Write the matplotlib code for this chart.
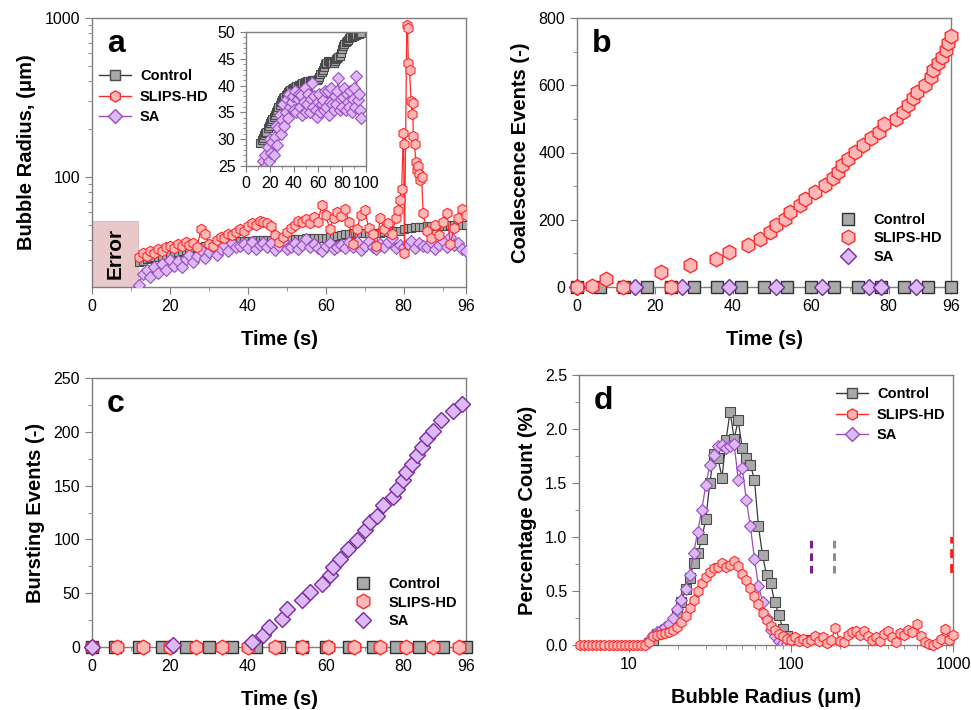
import numpy as np
import matplotlib
matplotlib.use("Agg")
import matplotlib.pyplot as plt
from matplotlib.ticker import MultipleLocator, FixedLocator, NullFormatter, LogLocator
from matplotlib.lines import Line2D

plt.rcParams['font.family'] = ['Liberation Sans', 'DejaVu Sans']

# ---------------- Panel a data ----------------
t_a = np.arange(12, 97)
control_a = [29.3, 29.8, 30.3, 30.8, 31.2, 31.4, 32.0, 32.5, 33.0, 33.4, 33.8, 34.2, 34.6, 35.0,
             35.5, 36.0, 36.4, 36.9, 37.3, 37.6, 37.9, 38.2, 38.5, 38.8, 39.0, 39.2, 39.4, 39.5,
             39.6, 39.8, 39.9, 40.0, 40.1, 40.2, 40.3, 40.4, 40.5, 40.6, 40.7, 40.8, 40.8, 40.9,
             40.9, 41.0, 41.0, 41.0, 41.0, 41.1, 41.2, 41.6, 42.1, 42.6, 43.0, 43.5, 44.0, 44.3,
             44.6, 44.5, 44.4, 44.3, 44.3, 44.2, 44.6, 45.0, 45.2, 45.4, 45.5, 46.0, 46.8, 47.4,
             47.8, 48.1, 48.4, 48.6, 48.8, 49.0, 49.1, 49.2, 49.3, 49.4, 49.5, 49.6, 49.7, 49.8, 49.8]
sa_a = [21.0, 24.5, 26.0, 23.5, 27.0, 25.0, 28.5, 26.0, 30.0, 27.5, 29.5, 27.0, 30.5, 32.5,
        29.0, 32.0, 34.5, 31.0, 33.5, 36.5, 32.5, 35.0, 37.5, 34.0, 38.5, 36.0, 37.0, 38.0,
        35.5, 39.0, 35.0, 37.5, 38.5, 36.0, 38.2, 34.5, 37.0, 39.5, 35.1, 36.5, 38.5, 35.0,
        37.5, 40.4, 36.0, 38.0, 35.5, 34.2, 37.0, 38.5, 35.0, 36.5, 37.3, 35.5, 39.0, 36.0,
        38.9, 34.5, 37.0, 39.5, 36.5, 35.4, 38.0, 36.5, 39.0, 41.4, 35.5, 37.5, 36.0, 37.9,
        39.5, 35.5, 38.5, 37.0, 36.1, 39.0, 35.0, 37.5, 39.5, 36.0, 41.7, 37.3, 38.5, 35.4, 34.0]
t_slips_a = [12, 13, 14, 15, 16, 17, 18, 19, 20, 21, 22, 23, 24, 25, 26, 27, 28, 29, 30, 31,
             32, 33, 34, 35, 36, 37, 38, 39, 40, 41, 42, 43, 44, 45, 46, 47, 48, 49, 50, 51,
             52, 53, 54, 55, 56, 57, 58, 59, 60, 61, 62, 63, 64, 65, 66, 67, 68, 69, 70, 71,
             72, 73, 74, 75, 76, 77, 78, 78.5, 79, 79.5, 79.9, 80.0, 80.2, 80.8, 81.0, 81.2,
             81.5, 81.9, 82.1, 82.3, 82.5, 82.8, 83.1, 83.4, 83.7, 84.0, 84.3, 84.6, 85, 86,
             87, 88, 89, 90, 91, 92, 93, 94, 95, 96]
slips_a = [31.5, 33.0, 32.0, 34.0, 33.0, 35.0, 34.0, 36.0, 37.0, 35.5, 38.0, 37.0, 39.0, 37.5,
           38.5, 36.5, 47.0, 44.0, 38.0, 37.0, 40.0, 42.0, 41.0, 44.0, 43.0, 45.0, 47.0, 46.0,
           49.0, 51.0, 50.0, 53.0, 52.0, 51.5, 49.0, 43.0, 39.0, 42.0, 45.0, 47.5, 50.0, 53.0,
           52.0, 54.0, 51.0, 56.0, 52.0, 67.0, 58.0, 47.0, 55.0, 60.0, 57.0, 63.0, 52.0, 38.0,
           47.0, 58.0, 62.0, 48.0, 44.0, 37.0, 55.0, 47.0, 51.0, 44.0, 55.0, 62.0, 72.0, 84.0,
           190.0, 160.0, 33.0, 900.0, 860.0, 520.0, 470.0, 300.0, 250.0, 290.0, 180.0, 160.0,
           125.0, 110.0, 118.0, 105.0, 95.0, 100.0, 59.0, 46.0, 41.0, 50.0, 43.0, 52.0, 59.0,
           38.0, 48.0, 55.0, 63.0, 58.0]

# ---------------- Panel b data ----------------
t_slips_b = [0, 3.8, 7.4, 11.9, 21.6, 24.1, 29.0, 35.7, 38.9, 44.0, 47.1, 49.5, 51.0, 53.3,
             54.7, 57.2, 58.5, 61.0, 63.6, 65.8, 67.0, 68.0, 69.6, 71.3, 73.3, 75.4, 77.6,
             78.9, 81.9, 83.6, 84.9, 86.3, 87.4, 89.3, 90.8, 91.4, 92.6, 93.8, 94.7, 95.3, 96.1]
slips_b = [0, 3, 24, 0, 45, 0, 65, 84, 104, 124, 144, 164, 184, 203, 223, 243, 263, 283, 303,
           323, 342, 362, 382, 402, 422, 442, 462, 484, 501, 521, 541, 561, 581, 600, 625, 645,
           665, 685, 705, 725, 745]
t_control_b = [0, 6, 12, 18, 24, 30, 36, 42, 48, 54, 60, 66, 72, 78, 84, 90, 96]
control_b = [0] * len(t_control_b)
t_sa_b = [0, 15, 27, 39, 51, 63, 75, 78, 87]
sa_b = [0] * len(t_sa_b)

# ---------------- Panel c data ----------------
t_sa_c = [0, 20.9, 41.1, 44.0, 45.5, 48.7, 50.1, 53.8, 56.0, 59.0, 61.1, 61.9, 63.7, 65.8,
          68.0, 70.1, 71.4, 73.1, 74.6, 77.2, 78.2, 79.8, 80.6, 82.1, 83.3, 84.6, 86.1, 87.6,
          89.7, 92.6, 94.9]
sa_c = [0, 1.5, 4.6, 10.8, 18.6, 26.3, 35.6, 43.4, 51.0, 58.9, 66.6, 74.4, 82.0, 91.4, 99.0,
        108.4, 116.0, 122.0, 132.0, 139.0, 147.0, 155.0, 163.0, 170.0, 178.0, 186.0, 194.0,
        201.0, 211.0, 219.0, 226.0]
t_control_c = [0, 6, 12, 18, 24, 30, 36, 42, 48, 54, 60, 66, 72, 78, 84, 90, 96]
control_c = [0] * len(t_control_c)
t_slips_c = [0, 6.4, 13.2, 20.0, 26.7, 33.4, 40.1, 47.0, 53.8, 60.5, 67.3, 74.0, 80.6, 87.5, 94.3]
slips_c = [0] * len(t_slips_c)

# ---------------- Panel d data ----------------
radius_slips = 10 ** (0.7 + 0.025 * np.arange(93))
pct_slips = [0, 0, 0, 0, 0, 0, 0, 0, 0, 0, 0, 0, 0, 0, 0, 0, 0,
             0.03, 0.08, 0.09, 0.10, 0.11, 0.12, 0.14, 0.17, 0.21, 0.27, 0.34, 0.42, 0.50, 0.57,
             0.63, 0.68, 0.71, 0.72, 0.76, 0.72, 0.74, 0.78, 0.73, 0.66, 0.60, 0.53, 0.45, 0.38,
             0.30, 0.23, 0.18, 0.14, 0.10, 0.08, 0.06, 0.05, 0.07, 0.04, 0.06, 0.03, 0.05, 0.08,
             0.04, 0.07, 0.02, 0.05, 0.16, 0.04, 0.03, 0.09, 0.12, 0.13, 0.09, 0.13, 0.08, 0.05,
             0.07, 0.04, 0.10, 0.13, 0.07, 0.03, 0.11, 0.09, 0.14, 0.12, 0.19, 0.08, 0.03, 0.01,
             0.00, 0.02, 0.06, 0.15, 0.05, 0.09]
radius_control = 10 ** (1.125 + 0.025 * np.arange(47))
pct_control = [0.02, 0.05, 0.10, 0.12, 0.14, 0.17, 0.21, 0.29, 0.40, 0.52, 0.62, 0.76, 0.85,
               0.98, 1.17, 1.50, 1.77, 1.73, 1.55, 1.90, 2.16, 1.91, 2.08, 1.82, 1.73, 1.67,
               1.53, 1.10, 0.83, 0.65, 0.57, 0.40, 0.28, 0.15, 0.08, 0.05, 0.04, 0.03, 0.05,
               0.04, 0.05, 0.03, 0.02, 0.01, 0.00, 0.00, 0.00]
radius_sa = 10 ** (1.125 + 0.025 * np.arange(41))
pct_sa = [0.05, 0.09, 0.12, 0.14, 0.17, 0.19, 0.25, 0.33, 0.42, 0.52, 0.65, 0.85, 1.05, 1.25,
          1.48, 1.67, 1.76, 1.84, 1.85, 1.82, 1.84, 1.86, 1.53, 1.64, 1.34, 1.10, 0.80, 0.55,
          0.40, 0.25, 0.14, 0.08, 0.04, 0.02, 0.01, 0.00, 0.00, 0.00, 0.00, 0.00, 0.00]
max_radius = {'SA': 133, 'Control': 185, 'SLIPS-HD': 980}

# ---------------- Styles ----------------
C_FACE, C_EDGE, C_LINE = '#a9a9a9', '#4a4a4a', '#3a3a3a'
S_FACE, S_EDGE, S_LINE = '#ffb8b8', '#ff2a2a', '#ff2a2a'
A_FACE, A_EDGE, A_LINE = '#dcb8f5', '#9a4cc0', '#9a4cc0'
SPINE = '#7f7f7f'
TICKFS = 11.5
LABFS = 14.5
LEGFS = 10.5

fig = plt.figure(figsize=(9.71, 7.10), dpi=100)


def style_axes(ax):
    for s in ax.spines.values():
        s.set_color(SPINE)
        s.set_linewidth(1.0)
    ax.tick_params(which='both', direction='out', color=SPINE, labelsize=TICKFS,
                   top=False, right=False)
    ax.tick_params(which='major', length=5)
    ax.tick_params(which='minor', length=3)


def panel_letter(ax, s):
    ax.text(0.04, 0.875, s, transform=ax.transAxes, fontsize=23, fontweight='bold',
            va='baseline', ha='left')


# ---- a ----
axa = fig.add_axes([92 / 971, 1 - 287 / 710, 374 / 971, 269 / 710])
axa.set_yscale('log')
axa.set_xlim(0, 96)
axa.set_ylim(20.3, 1000)
axa.fill_between([0, 11.8], 20.3, 53, color='#e8c8c8', edgecolor='#dcb0b0', lw=0.6, zorder=1)
axa.text(5.9, 33, 'Error', rotation=90, ha='center', va='center', fontsize=15,
         fontweight='bold', zorder=2)
axa.plot(t_a, control_a, '-s', color=C_LINE, mfc=C_FACE, mec=C_EDGE, ms=6, mew=0.8, lw=0.9, zorder=3)
axa.plot(t_a, sa_a, '-D', color=A_LINE, mfc=A_FACE, mec=A_EDGE, ms=6, mew=0.8, lw=0.9, zorder=4)
axa.plot(t_slips_a, slips_a, '-h', color=S_LINE, mfc=S_FACE, mec=S_EDGE, ms=7.5, mew=0.8, lw=0.9, zorder=5)
style_axes(axa)
axa.set_xticks([0, 20, 40, 60, 80, 96])
axa.xaxis.set_minor_locator(FixedLocator([10, 30, 50, 70, 90]))
axa.yaxis.set_major_locator(FixedLocator([100, 1000]))
axa.yaxis.set_minor_locator(LogLocator(base=10, subs=np.arange(2, 10)))
axa.yaxis.set_minor_formatter(NullFormatter())
axa.set_yticklabels(['100', '1000'])
axa.set_xlabel('Time (s)', fontsize=LABFS, fontweight='bold', labelpad=12)
axa.set_ylabel('Bubble Radius, (μm)', fontsize=LABFS, fontweight='bold', labelpad=6)
panel_letter(axa, 'a')
h_a = [Line2D([], [], color=C_LINE, marker='s', mfc=C_FACE, mec=C_EDGE, ms=7, lw=1),
       Line2D([], [], color=S_LINE, marker='h', mfc=S_FACE, mec=S_EDGE, ms=8, lw=1),
       Line2D([], [], color=A_LINE, marker='D', mfc=A_FACE, mec=A_EDGE, ms=7, lw=1)]
axa.legend(h_a, ['Control', 'SLIPS-HD', 'SA'], loc='upper left', bbox_to_anchor=(0.019, 0.81),
           frameon=False, prop={'weight': 'bold', 'size': LEGFS}, handlelength=2.2,
           handletextpad=0.6, labelspacing=0.45, borderpad=0, borderaxespad=0)

# inset
axi = fig.add_axes([246 / 971, 1 - 166 / 710, 120 / 971, 134 / 710])
axi.set_xlim(0, 100)
axi.set_ylim(25, 50)
axi.plot(t_a, control_a, '-s', color=C_LINE, mfc=C_FACE, mec=C_EDGE, ms=6, mew=0.8, lw=0.9, clip_on=True)
axi.plot(t_a, sa_a, '-D', color=A_LINE, mfc=A_FACE, mec=A_EDGE, ms=6, mew=0.8, lw=0.9, clip_on=True)
style_axes(axi)
axi.xaxis.set_major_locator(MultipleLocator(20))
axi.xaxis.set_minor_locator(MultipleLocator(10))
axi.yaxis.set_major_locator(MultipleLocator(5))
axi.yaxis.set_minor_locator(MultipleLocator(1))
axi.tick_params(which='major', length=4)
axi.tick_params(which='minor', length=2)

# ---- b ----
axb = fig.add_axes([577 / 971, 1 - 287 / 710, 374 / 971, 269 / 710])
axb.set_xlim(0, 96)
axb.set_ylim(0, 800)
axb.plot(t_control_b, control_b, 's', mfc=C_FACE, mec='#303030', ms=9, mew=1.0, clip_on=False, zorder=3)
axb.plot(t_sa_b, sa_b, 'D', mfc=A_FACE, mec='#7a2aa0', ms=8.5, mew=1.0, clip_on=False, zorder=4)
axb.plot(t_slips_b, slips_b, 'h', mfc=S_FACE, mec=S_EDGE, ms=10.5, mew=1.0, clip_on=False, zorder=5)
style_axes(axb)
axb.set_xticks([0, 20, 40, 60, 80, 96])
axb.xaxis.set_minor_locator(FixedLocator([10, 30, 50, 70, 90]))
axb.yaxis.set_major_locator(MultipleLocator(200))
axb.yaxis.set_minor_locator(MultipleLocator(100))
axb.set_xlabel('Time (s)', fontsize=LABFS, fontweight='bold', labelpad=12)
axb.set_ylabel('Coalescence Events (-)', fontsize=LABFS, fontweight='bold', labelpad=6)
panel_letter(axb, 'b')
h_b = [Line2D([], [], ls='', marker='s', mfc=C_FACE, mec='#303030', ms=9),
       Line2D([], [], ls='', marker='h', mfc=S_FACE, mec=S_EDGE, ms=10.5),
       Line2D([], [], ls='', marker='D', mfc=A_FACE, mec='#7a2aa0', ms=8.5)]
axb.legend(h_b, ['Control', 'SLIPS-HD', 'SA'], loc='lower right', bbox_to_anchor=(0.976, 0.085),
           frameon=False, prop={'weight': 'bold', 'size': LEGFS}, handlelength=2.0,
           handletextpad=0.72, labelspacing=0.32, borderpad=0, borderaxespad=0)

# ---- c ----
axc = fig.add_axes([92 / 971, 1 - 647 / 710, 374 / 971, 269 / 710])
axc.set_xlim(0, 96)
axc.set_ylim(0, 250)
axc.plot(t_control_c, control_c, 's', mfc=C_FACE, mec='#303030', ms=9, mew=1.0, clip_on=False, zorder=3)
axc.plot(t_slips_c, slips_c, 'h', mfc=S_FACE, mec=S_EDGE, ms=10.5, mew=1.0, clip_on=False, zorder=4)
axc.plot(t_sa_c, sa_c, 'D', mfc=A_FACE, mec='#7a2aa0', ms=8.5, mew=1.0, clip_on=False, zorder=5)
style_axes(axc)
axc.set_xticks([0, 20, 40, 60, 80, 96])
axc.xaxis.set_minor_locator(FixedLocator([10, 30, 50, 70, 90]))
axc.yaxis.set_major_locator(MultipleLocator(50))
axc.yaxis.set_minor_locator(MultipleLocator(25))
axc.set_xlabel('Time (s)', fontsize=LABFS, fontweight='bold', labelpad=12)
axc.set_ylabel('Bursting Events (-)', fontsize=LABFS, fontweight='bold', labelpad=6)
panel_letter(axc, 'c')
axc.legend(h_b, ['Control', 'SLIPS-HD', 'SA'], loc='lower right', bbox_to_anchor=(0.976, 0.07),
           frameon=False, prop={'weight': 'bold', 'size': LEGFS}, handlelength=2.0,
           handletextpad=0.72, labelspacing=0.32, borderpad=0, borderaxespad=0)

# ---- d ----
axd = fig.add_axes([579 / 971, 1 - 645 / 710, 374 / 971, 270 / 710])
axd.set_xscale('log')
axd.set_xlim(4.93, 1000)
axd.set_ylim(0, 2.5)
axd.plot(radius_control, pct_control, '-s', color=C_LINE, mfc=C_FACE, mec=C_EDGE, ms=6.5, mew=0.8, lw=0.9, zorder=3)
axd.plot(radius_sa, pct_sa, '-D', color=A_LINE, mfc=A_FACE, mec=A_EDGE, ms=6.5, mew=0.8, lw=0.9, zorder=4)
axd.plot(radius_slips, pct_slips, '-h', color=S_LINE, mfc=S_FACE, mec=S_EDGE, ms=7.5, mew=0.8, lw=0.9, zorder=5, clip_on=False)
axd.plot([max_radius['SA']] * 2, [0.67, 1.0], ls=(0, (2.5, 1.6)), color='#7b1f8f', lw=2.2, zorder=6)
axd.plot([max_radius['Control']] * 2, [0.67, 1.0], ls=(0, (2.5, 1.6)), color='#8c8c8c', lw=2.2, zorder=6)
axd.plot([max_radius['SLIPS-HD']] * 2, [0.67, 1.0], ls=(0, (2.5, 1.6)), color='#ff1a1a', lw=2.6, zorder=6)
style_axes(axd)
axd.xaxis.set_major_locator(FixedLocator([10, 100, 1000]))
axd.set_xticklabels(['10', '100', '1000'])
axd.xaxis.set_minor_locator(LogLocator(base=10, subs=np.arange(2, 10)))
axd.xaxis.set_minor_formatter(NullFormatter())
axd.yaxis.set_major_locator(MultipleLocator(0.5))
axd.yaxis.set_minor_locator(MultipleLocator(0.25))
axd.set_yticklabels([f'{v:.1f}' for v in axd.get_yticks()])
axd.set_xlabel('Bubble Radius (μm)', fontsize=LABFS, fontweight='bold', labelpad=12)
axd.set_ylabel('Percentage Count (%)', fontsize=LABFS, fontweight='bold', labelpad=6)
panel_letter(axd, 'd')
h_d = [Line2D([], [], color=C_LINE, marker='s', mfc=C_FACE, mec=C_EDGE, ms=7, lw=1),
       Line2D([], [], color=S_LINE, marker='h', mfc=S_FACE, mec=S_EDGE, ms=8, lw=1),
       Line2D([], [], color=A_LINE, marker='D', mfc=A_FACE, mec=A_EDGE, ms=7, lw=1)]
axd.legend(h_d, ['Control', 'SLIPS-HD', 'SA'], loc='upper right', bbox_to_anchor=(0.98, 0.955),
           frameon=False, prop={'weight': 'bold', 'size': LEGFS}, handlelength=2.2,
           handletextpad=0.6, labelspacing=0.45, borderpad=0, borderaxespad=0)

fig.savefig('out.png', dpi=100)
